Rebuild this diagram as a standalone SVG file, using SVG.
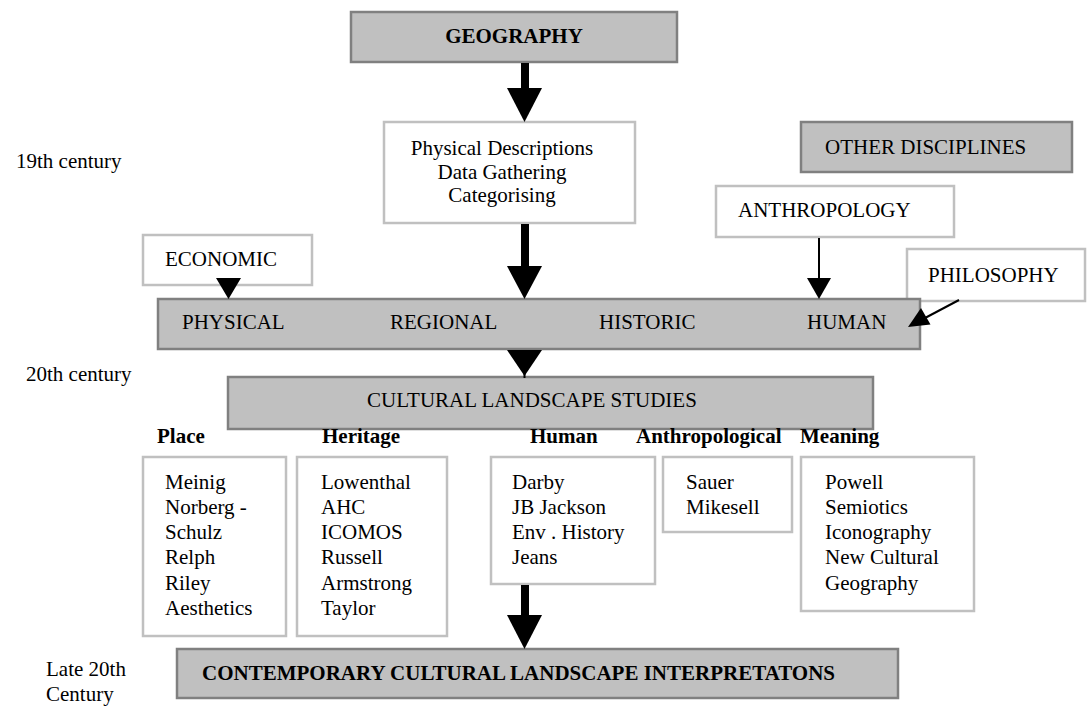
<svg xmlns="http://www.w3.org/2000/svg" width="1088" height="706" viewBox="0 0 1088 706">
<style>
text{font-family:"Liberation Serif","Times New Roman",serif;font-size:21px;fill:#000}
.b{font-weight:bold}
.g{fill:#c0c0c0;stroke:#808080;stroke-width:2.5}
.w{fill:#fff;stroke:#c0c0c0;stroke-width:2.5}
.ln{stroke:#000;stroke-width:2;fill:none}
.sh{stroke:#000;stroke-width:8;fill:none}
.hd{fill:#000}
</style>
<rect width="1088" height="706" fill="#fff"/>
<g id="labels">
<text x="16" y="168">19th century</text>
<text x="26" y="381">20th century</text>
<text x="46" y="676">Late 20th</text>
<text x="46" y="701">Century</text>
</g>
<g id="geography">
<rect class="g" x="351" y="12" width="326" height="50"/>
<text class="b" x="514" y="43" text-anchor="middle">GEOGRAPHY</text>
</g>
<g id="physical-descriptions">
<rect class="w" x="384" y="122" width="251" height="101"/>
<text x="502" y="155" text-anchor="middle">Physical Descriptions</text>
<text x="502" y="178.5" text-anchor="middle">Data Gathering</text>
<text x="502" y="202" text-anchor="middle">Categorising</text>
</g>
<g id="other-disciplines">
<rect class="g" x="801" y="122" width="271" height="50"/>
<text x="825" y="154">OTHER DISCIPLINES</text>
</g>
<g id="anthropology">
<rect class="w" x="716" y="186" width="238" height="51"/>
<text x="738" y="217">ANTHROPOLOGY</text>
</g>
<g id="economic">
<rect class="w" x="143" y="235" width="169" height="50"/>
<text x="165" y="266">ECONOMIC</text>
</g>
<g id="philosophy">
<rect class="w" x="907" y="249" width="178" height="52"/>
<text x="928" y="282">PHILOSOPHY</text>
</g>
<g id="approaches">
<rect class="g" x="158" y="299" width="762" height="50"/>
<text x="182" y="329">PHYSICAL</text>
<text x="390" y="329">REGIONAL</text>
<text x="599" y="329">HISTORIC</text>
<text x="807" y="329">HUMAN</text>
</g>
<g id="cultural-landscape-studies">
<rect class="g" x="228" y="377" width="645" height="52"/>
<text x="367" y="407">CULTURAL LANDSCAPE STUDIES</text>
</g>
<g id="place">
<text class="b" x="157" y="443">Place</text>
<rect class="w" x="143" y="457" width="143" height="179"/>
<text x="165" y="489">Meinig</text>
<text x="165" y="514">Norberg -</text>
<text x="165" y="539">Schulz</text>
<text x="165" y="564">Relph</text>
<text x="165" y="590">Riley</text>
<text x="165" y="615">Aesthetics</text>
</g>
<g id="heritage">
<text class="b" x="322" y="443">Heritage</text>
<rect class="w" x="297" y="457" width="150" height="179"/>
<text x="321" y="489">Lowenthal</text>
<text x="321" y="514">AHC</text>
<text x="321" y="539">ICOMOS</text>
<text x="321" y="564">Russell</text>
<text x="321" y="590">Armstrong</text>
<text x="321" y="615">Taylor</text>
</g>
<g id="human">
<text class="b" x="530" y="443">Human</text>
<rect class="w" x="491" y="457" width="164" height="127"/>
<text x="512" y="489">Darby</text>
<text x="512" y="514">JB Jackson</text>
<text x="512" y="539">Env . History</text>
<text x="512" y="564">Jeans</text>
</g>
<g id="anthropological">
<text class="b" x="636" y="443">Anthropological</text>
<rect class="w" x="663" y="457" width="129" height="75"/>
<text x="686" y="489">Sauer</text>
<text x="686" y="514">Mikesell</text>
</g>
<g id="meaning">
<text class="b" x="800" y="443">Meaning</text>
<rect class="w" x="801" y="457" width="173" height="154"/>
<text x="825" y="489">Powell</text>
<text x="825" y="514">Semiotics</text>
<text x="825" y="539">Iconography</text>
<text x="825" y="564">New Cultural</text>
<text x="825" y="590">Geography</text>
</g>
<g id="contemporary">
<rect class="g" x="177" y="649" width="721" height="49"/>
<text class="b" x="202" y="680">CONTEMPORARY CULTURAL LANDSCAPE INTERPRETATONS</text>
</g>
<g id="connectors">
<line class="sh" x1="525" y1="63" x2="525" y2="90"/>
<polygon class="hd" points="507,88 542,88 524.5,122"/>
<line class="sh" x1="525" y1="224" x2="525" y2="268"/>
<polygon class="hd" points="507,266 542,266 524.5,299"/>
<polygon class="hd" points="507,350 542,350 524.5,376"/>
<line class="ln" x1="524.5" y1="370" x2="524.5" y2="378"/>
<polygon class="hd" points="216,278 241,278 228.5,299"/>
<line class="ln" x1="819" y1="238" x2="819" y2="280"/>
<polygon class="hd" points="807,278 831,278 819,299"/>
<line class="ln" x1="959" y1="300" x2="925" y2="318"/>
<polygon class="hd" points="908,327 930.5,324.5 921,308"/>
<line class="sh" x1="525" y1="585" x2="525" y2="617"/>
<polygon class="hd" points="507,615 542,615 524.5,649"/>
</g>
</svg>
